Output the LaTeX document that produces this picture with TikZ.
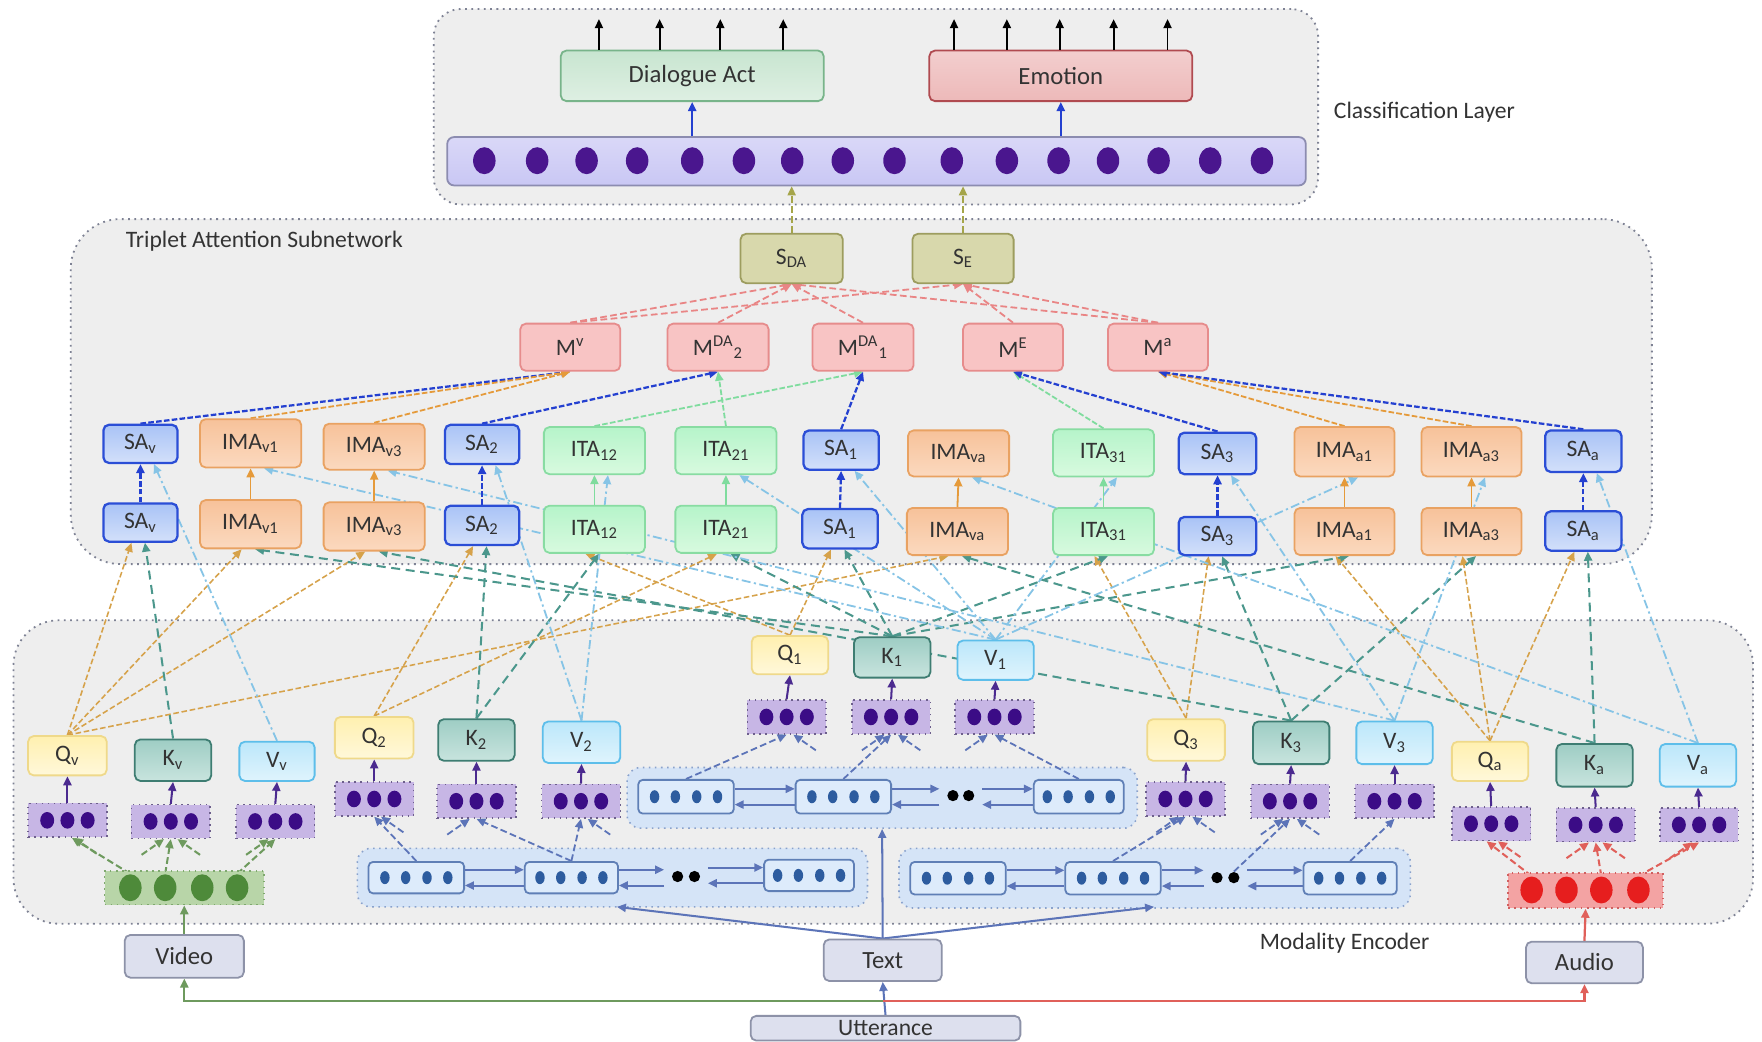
\documentclass[tikz,border=0pt]{standalone}
\usepackage{fontspec}
\setmainfont{Carlito}
\usetikzlibrary{arrows.meta,shapes.geometric}
\pgfdeclarelayer{back}
\pgfdeclarelayer{bg}
\pgfsetlayers{back,bg,main}

% palette
\definecolor{contF}{HTML}{EEEEEE}\definecolor{contB}{HTML}{7E8294}
\definecolor{barF}{HTML}{C9C7F4}\definecolor{barB}{HTML}{8C8CB0}\definecolor{barDot}{HTML}{4A168E}
\definecolor{daF}{HTML}{C8E5D0}\definecolor{daB}{HTML}{78B48A}
\definecolor{emF}{HTML}{EDB9B9}\definecolor{emB}{HTML}{B04A50}
\definecolor{sF}{HTML}{D8D8AC}\definecolor{sB}{HTML}{9D9D5F}
\definecolor{mF}{HTML}{F8C4C4}\definecolor{mB}{HTML}{E68C8C}
\definecolor{saF}{HTML}{A9C3F6}\definecolor{saFF}{HTML}{D3E0FA}\definecolor{saB}{HTML}{2B4ED6}
\definecolor{imaF}{HTML}{F7C29A}\definecolor{imaFF}{HTML}{FBD9BF}\definecolor{imaB}{HTML}{E9A262}
\definecolor{itaF}{HTML}{B6F4CA}\definecolor{itaFF}{HTML}{D8FADF}\definecolor{itaB}{HTML}{88DCA2}
\definecolor{qF}{HTML}{FFF0B0}\definecolor{qFF}{HTML}{FFF8DA}\definecolor{qB}{HTML}{EFD98A}
\definecolor{kF}{HTML}{9ECDC4}\definecolor{kFF}{HTML}{C8E4DE}\definecolor{kB}{HTML}{3E7D72}
\definecolor{vF}{HTML}{BCE7FA}\definecolor{vFF}{HTML}{DFF4FD}\definecolor{vB}{HTML}{5DBEEA}
\definecolor{pF}{HTML}{C7B6E5}\definecolor{pB}{HTML}{6D5F8C}\definecolor{pDot}{HTML}{3B0C86}
\definecolor{cellF}{HTML}{DDEBFB}\definecolor{cellB}{HTML}{5F7FB6}\definecolor{cellDot}{HTML}{2D5C9F}
\definecolor{tgF}{HTML}{D5E4F7}\definecolor{tgB}{HTML}{8AA2CC}
\definecolor{inF}{HTML}{DDE0EE}\definecolor{inB}{HTML}{8D92A8}
\definecolor{gF}{HTML}{B8D5A8}\definecolor{gB}{HTML}{7FA86F}\definecolor{gDot}{HTML}{4E8A3A}
\definecolor{rF}{HTML}{F3A3A3}\definecolor{rB}{HTML}{D06060}\definecolor{rDot}{HTML}{E61E1E}
\definecolor{tLine}{HTML}{5C74B8}\definecolor{gLine}{HTML}{6E9A5E}\definecolor{rLine}{HTML}{E0605A}
\definecolor{pLine}{HTML}{4B2A8F}\definecolor{qLine}{HTML}{D6A24A}\definecolor{kLine}{HTML}{4B978C}
\definecolor{vLine}{HTML}{86C4E6}\definecolor{saLine}{HTML}{2440D0}\definecolor{imaLine}{HTML}{E59A3A}
\definecolor{itaLine}{HTML}{7FDC9E}\definecolor{mLine}{HTML}{E98585}\definecolor{sLine}{HTML}{A5A54A}

% box given by its corners (x1,y1)-(x2,y2)
\newcommand\mybox[7]{%
  \pgfmathsetmacro\bxc{(#3+#5)/2}%
  \pgfmathsetmacro\byc{(#4+#6)/2}%
  \pgfmathsetmacro\bxw{(#5-#3)/2}%
  \pgfmathsetmacro\byh{(#6-#4)/2}%
  \node[#1,minimum width=\bxw pt,minimum height=\byh pt] (#2) at (\bxc,\byc) {#7};}
% small projection box with three units
\newcommand\pbx[3]{\node[pbox] (#1) at (#2,#3) {};%
  \foreach \dx in {-18,0,18}{\fill[pDot] ({#2+\dx},{#3}) ellipse [x radius=3.1pt,y radius=3.7pt];}}
% recurrent cell with four units
\newcommand\cell[5]{\mybox{cellst}{#1}{#2}{#3}{#4}{#5}{}%
  \foreach \dx in {-28,-9.5,9.5,28}{\fill[cellDot] ({(#2+#4)/2+\dx},{(#3+#5)/2}) ellipse [x radius=2.1pt,y radius=2.9pt];}}
% short incoming stubs under a projection box
\newcommand\stubL[2]{\draw[#2] ([shift={(-13pt,-7pt)}]#1.south) -- ([xshift=-3pt]#1.south);}
\newcommand\stubR[2]{\draw[#2] ([shift={(13pt,-7pt)}]#1.south) -- ([xshift=3pt]#1.south);}

\tikzset{
  >={Triangle[length=4pt,width=3.6pt]},
  lbl/.style={font=\fontsize{10.5}{12}\selectfont,text=black!80},
  cont/.style={draw=contB,fill=contF,dotted,line width=0.8pt,inner sep=0pt},
  base/.style={draw,rounded corners=2.5pt,inner sep=0pt,line width=0.8pt,
    font=\fontsize{10.5}{12}\selectfont,text=black!80},
  sabox/.style={base,draw=saB,line width=1pt,top color=saF,bottom color=saFF},
  imabox/.style={base,draw=imaB,top color=imaF,bottom color=imaFF},
  itabox/.style={base,draw=itaB,top color=itaF,bottom color=itaFF},
  mbox/.style={base,draw=mB,fill=mF},
  sbox/.style={base,draw=sB,fill=sF},
  qbox/.style={base,draw=qB,top color=qF,bottom color=qFF},
  kbox/.style={base,draw=kB,top color=kF,bottom color=kFF},
  vbox/.style={base,draw=vB,top color=vF,bottom color=vFF},
  inbox/.style={base,draw=inB,fill=inF,font=\fontsize{11}{13}\selectfont},
  pbox/.style={draw=pB,fill=pF,dotted,line width=0.7pt,minimum width=35pt,minimum height=15pt,inner sep=0pt},
  cellst/.style={draw=cellB,fill=cellF,rounded corners=2pt,line width=0.8pt,inner sep=0pt},
  grp/.style={draw=tgB,fill=tgF,dotted,rounded corners=6pt,line width=0.7pt,inner sep=0pt},
  gfeat/.style={draw=gB,fill=gF,dotted,line width=0.7pt,inner sep=0pt},
  rfeat/.style={draw=rB,fill=rF,dotted,line width=0.7pt,inner sep=0pt},
  gdot/.style={ellipse,fill=gDot,minimum width=10pt,minimum height=12pt,inner sep=0pt},
  rdot/.style={ellipse,fill=rDot,minimum width=10pt,minimum height=12pt,inner sep=0pt},
  bdot/.style={circle,fill=black,minimum size=5pt,inner sep=0pt},
  kdot/.style={ellipse,fill=barDot,minimum width=10pt,minimum height=12pt,inner sep=0pt},
  tarr/.style={->,draw=tLine,line width=0.9pt},
  tdash/.style={->,draw=tLine,dashed,dash pattern=on 3pt off 1.5pt,line width=0.8pt},
  gdash/.style={->,draw=gLine,dash pattern=on 3pt off 1.5pt,line width=0.9pt},
  rdash/.style={->,draw=rLine,dash pattern=on 3pt off 1.5pt,line width=0.9pt},
  parr/.style={->,draw=pLine,line width=0.9pt},
  qline/.style={->,draw=qLine,dash pattern=on 2.5pt off 1.2pt,line width=0.7pt},
  kline/.style={->,draw=kLine,dash pattern=on 4pt off 2.5pt,line width=0.9pt},
  vline/.style={->,draw=vLine,dash pattern=on 4pt off 1.5pt on 1pt off 1.5pt,line width=0.8pt},
  saline/.style={->,draw=saLine,dash pattern=on 2.5pt off 1pt,line width=1pt},
  imaline/.style={->,draw=imaLine,dash pattern=on 2.5pt off 1pt,line width=0.8pt},
  imasolid/.style={->,draw=imaLine,line width=0.8pt},
  italine/.style={->,draw=itaLine,dash pattern=on 2.5pt off 1pt,line width=0.8pt},
  itasolid/.style={->,draw=itaLine,line width=0.7pt},
  mline/.style={->,draw=mLine,dash pattern=on 3pt off 1.5pt,line width=0.8pt},
  sline/.style={->,draw=sLine,dash pattern=on 3pt off 1.5pt,line width=0.8pt},
}

\begin{document}
\begin{tikzpicture}[x=0.5pt,y=-0.5pt]
\useasboundingbox (0,0) rectangle (1568,927);

% ---------- containers ----------
\begin{pgfonlayer}{back}
  \fill[white] (0,0) rectangle (1568,927);
  \mybox{cont,rounded corners=12pt}{cls}{386}{8}{1173}{182}{}
  \mybox{cont,rounded corners=22pt}{tas}{63}{195}{1470}{502}{}
  \mybox{cont,rounded corners=20pt}{enc}{12}{552}{1560}{822}{}
  \mybox{grp}{tg1}{318}{755}{772}{807}{}
  \mybox{grp}{tg2}{558}{683}{1012}{737}{}
  \mybox{grp}{tg3}{800}{755}{1255}{808}{}
\end{pgfonlayer}

\node[lbl,anchor=west] (clsl) at (1180,100) {Classification Layer};
\node[lbl,anchor=west] (tasl) at (105,215) {Triplet Attention Subnetwork};
\node[lbl,anchor=west] (encl) at (1114,839) {Modality Encoder};

% ---------- classification layer ----------
\mybox{base,draw=daB,top color=daF,bottom color=daF!60!white,font=\fontsize{11}{13}\selectfont}{DA}{499}{45}{733}{90}{Dialogue Act}
\mybox{base,draw=emB,top color=emF!70!white,bottom color=emF,font=\fontsize{11}{13}\selectfont}{EM}{827}{45}{1061}{90}{Emotion}
\mybox{draw=barB,top color=barF!70!white,bottom color=barF,rounded corners=3pt,line width=0.8pt,inner sep=0pt}{bar}{398}{122}{1162}{165}{}
\foreach \x [count=\i] in {431,478,522,567,616,662,705,750,796,847,896,942,986,1031,1077,1123}
  \node[kdot] (h\i) at (\x,143) {};
\foreach \x [count=\i] in {533,587,641,697} {
  \coordinate (do\i) at (\x,17);
  \draw[->,line width=0.8pt] (do\i |- DA.north) -- (do\i);}
\foreach \x [count=\i] in {849,896,943,991,1039} {
  \coordinate (eo\i) at (\x,17);
  \draw[->,line width=0.8pt] (eo\i |- EM.north) -- (eo\i);}
\draw[->,draw=saLine,line width=0.9pt] (DA.south |- bar.north) -- (DA.south);
\draw[->,draw=saLine,line width=0.9pt] (EM.south |- bar.north) -- (EM.south);

% ---------- triplet attention subnetwork ----------
\mybox{sbox}{SDA}{659}{208}{750}{252}{S\textsubscript{DA}}
\mybox{sbox}{SE}{812}{208}{902}{252}{S\textsubscript{E}}

\mybox{mbox}{Mv}{463}{288}{552}{330}{M\textsuperscript{v}}
\mybox{mbox}{MDAb}{594}{288}{684}{330}{M\textsuperscript{DA}\textsubscript{2}}
\mybox{mbox}{MDAa}{723}{288}{813}{330}{M\textsuperscript{DA}\textsubscript{1}}
\mybox{mbox}{ME}{857}{288}{946}{330}{M\textsuperscript{E}}
\mybox{mbox}{Ma}{986}{288}{1075}{330}{M\textsuperscript{a}}

% upper attention row
\mybox{sabox}{SAvU}{92}{378}{158}{412}{SA\textsubscript{v}}
\mybox{imabox}{IMAv1U}{178}{373}{268}{416}{IMA\textsubscript{v1}}
\mybox{imabox}{IMAv3U}{288}{377}{378}{418}{IMA\textsubscript{v3}}
\mybox{sabox}{SA2U}{396}{378}{462}{413}{SA\textsubscript{2}}
\mybox{itabox}{ITA12U}{484}{380}{574}{422}{ITA\textsubscript{12}}
\mybox{itabox}{ITA21U}{601}{380}{691}{422}{ITA\textsubscript{21}}
\mybox{sabox}{SA1U}{715}{383}{782}{418}{SA\textsubscript{1}}
\mybox{imabox}{IMAvaU}{808}{383}{898}{424}{IMA\textsubscript{va}}
\mybox{itabox}{ITA31U}{937}{382}{1027}{424}{ITA\textsubscript{31}}
\mybox{sabox}{SA3U}{1049}{385}{1118}{422}{SA\textsubscript{3}}
\mybox{imabox}{IMAa1U}{1152}{380}{1241}{424}{IMA\textsubscript{a1}}
\mybox{imabox}{IMAa3U}{1265}{380}{1354}{424}{IMA\textsubscript{a3}}
\mybox{sabox}{SAaU}{1375}{383}{1443}{420}{SA\textsubscript{a}}

% lower attention row
\mybox{sabox}{SAvL}{92}{448}{158}{482}{SA\textsubscript{v}}
\mybox{imabox}{IMAv1L}{178}{445}{268}{488}{IMA\textsubscript{v1}}
\mybox{imabox}{IMAv3L}{288}{447}{378}{490}{IMA\textsubscript{v3}}
\mybox{sabox}{SA2L}{396}{450}{462}{485}{SA\textsubscript{2}}
\mybox{itabox}{ITA12L}{484}{450}{574}{492}{ITA\textsubscript{12}}
\mybox{itabox}{ITA21L}{601}{450}{691}{492}{ITA\textsubscript{21}}
\mybox{sabox}{SA1L}{714}{453}{781}{488}{SA\textsubscript{1}}
\mybox{imabox}{IMAvaL}{807}{452}{897}{494}{IMA\textsubscript{va}}
\mybox{itabox}{ITA31L}{937}{452}{1027}{494}{ITA\textsubscript{31}}
\mybox{sabox}{SA3L}{1049}{460}{1118}{494}{SA\textsubscript{3}}
\mybox{imabox}{IMAa1L}{1152}{452}{1241}{494}{IMA\textsubscript{a1}}
\mybox{imabox}{IMAa3L}{1265}{452}{1354}{494}{IMA\textsubscript{a3}}
\mybox{sabox}{SAaL}{1375}{455}{1443}{490}{SA\textsubscript{a}}

% ---------- modality encoder ----------
\mybox{qbox}{Qv}{25}{655}{95}{690}{Q\textsubscript{v}}
\mybox{kbox}{Kv}{120}{658}{188}{695}{K\textsubscript{v}}
\mybox{vbox}{Vv}{213}{660}{280}{695}{V\textsubscript{v}}
\mybox{qbox}{Q2}{298}{638}{368}{675}{Q\textsubscript{2}}
\mybox{kbox}{K2}{390}{640}{458}{677}{K\textsubscript{2}}
\mybox{vbox}{V2}{483}{642}{552}{679}{V\textsubscript{2}}
\mybox{qbox}{Q1}{669}{566}{737}{600}{Q\textsubscript{1}}
\mybox{kbox}{K1}{760}{567}{828}{603}{K\textsubscript{1}}
\mybox{vbox}{V1}{852}{570}{920}{605}{V\textsubscript{1}}
\mybox{qbox}{Q3}{1021}{640}{1090}{677}{Q\textsubscript{3}}
\mybox{kbox}{K3}{1115}{642}{1183}{680}{K\textsubscript{3}}
\mybox{vbox}{V3}{1207}{642}{1275}{680}{V\textsubscript{3}}
\mybox{qbox}{Qa}{1292}{660}{1360}{695}{Q\textsubscript{a}}
\mybox{kbox}{Ka}{1385}{662}{1453}{700}{K\textsubscript{a}}
\mybox{vbox}{Va}{1477}{662}{1545}{700}{V\textsubscript{a}}

\pbx{PQv}{60}{730}\pbx{PKv}{152}{731}\pbx{PVv}{245}{731}
\pbx{PQ2}{333}{711}\pbx{PK2}{424}{713}\pbx{PV2}{517}{713}
\pbx{PQ1}{700}{638}\pbx{PK1}{793}{638}\pbx{PV1}{885}{638}
\pbx{PQ3}{1055}{711}\pbx{PK3}{1148}{713}\pbx{PV3}{1241}{713}
\pbx{PQa}{1327}{733}\pbx{PKa}{1420}{734}\pbx{PVa}{1512}{734}

% text encoder cells
\cell{c11}{328}{767}{413}{795}\cell{c12}{467}{767}{550}{795}\cell{c13}{680}{765}{760}{793}
\cell{c21}{568}{694}{653}{724}\cell{c22}{708}{694}{793}{724}\cell{c23}{920}{694}{1000}{724}
\cell{c31}{810}{767}{895}{796}\cell{c32}{948}{767}{1033}{796}\cell{c33}{1160}{767}{1243}{796}
\node[bdot] (b1l) at (603,780) {};\node[bdot] (b1r) at (618,780) {};
\node[bdot] (b2l) at (848,708) {};\node[bdot] (b2r) at (862,708) {};
\node[bdot] (b3l) at (1083,781) {};\node[bdot] (b3r) at (1098,781) {};
\coordinate (g1a) at (591,781);\coordinate (g1b) at (630,779);
\coordinate (g2a) at (836,709);\coordinate (g2b) at (874,709);
\coordinate (g3a) at (1071,781.5);\coordinate (g3b) at (1110,781.5);

% video and audio feature vectors
\mybox{gfeat}{vfeat}{93}{775}{235}{805}{}
\node[gdot] (gd1) at (116,790) {};\node[gdot] (gd2) at (147,790) {};
\node[gdot] (gd3) at (180,790) {};\node[gdot] (gd4) at (211,790) {};
\mybox{rfeat}{afeat}{1342}{777}{1480}{808}{}
\node[rdot] (rd1) at (1363,792) {};\node[rdot] (rd2) at (1394,792) {};
\node[rdot] (rd3) at (1425,792) {};\node[rdot] (rd4) at (1458,792) {};

% inputs
\mybox{inbox}{Video}{111}{832}{217}{870}{Video}
\mybox{inbox}{Text}{733}{836}{838}{873}{Text}
\mybox{inbox}{Audio}{1358}{838}{1462}{875}{Audio}
\mybox{inbox,font=\fontsize{10.5}{12}\selectfont}{Utt}{668}{904}{908}{926}{Utterance}
\coordinate (split) at (786,891);
\coordinate (tgl) at (549,807);
\coordinate (tgr) at (1027,807);

% ---------- connectors ----------
\begin{pgfonlayer}{bg}
  % inputs
  \draw[->,draw=tLine,line width=0.9pt] (Utt.north) -- (Text.south);
  \draw[->,draw=gLine,line width=1pt] (split) -| (Video.south);
  \draw[->,draw=rLine,line width=1pt] (split) -| (Audio.south);
  \draw[->,draw=gLine,line width=1pt] (Video.north) -- (vfeat.south);
  \draw[->,draw=rLine,line width=1pt] (Audio.north) -- (afeat.south);
  \draw[tarr] (Text.north) -- (tg2.south);
  \draw[tarr] (Text.north) -- (tgl);
  \draw[tarr] (Text.north) -- (tgr);

  % bidirectional recurrences
  \foreach \a/\b/\ga/\gb/\c in {c11/c12/g1a/g1b/c13, c21/c22/g2a/g2b/c23, c31/c32/g3a/g3b/c33} {
    \draw[tarr] ([yshift=3.5pt]\a.east) -- ([yshift=3.5pt]\b.west);
    \draw[tarr] ([yshift=-3.5pt]\b.west) -- ([yshift=-3.5pt]\a.east);
    \draw[tarr] ([yshift=3.5pt]\b.east) -- ([yshift=3.5pt]\ga);
    \draw[tarr] ([yshift=-3.5pt]\ga) -- ([yshift=-3.5pt]\b.east);
    \draw[tarr] ([yshift=3.5pt]\gb) -- ([yshift=3.5pt]\c.west);
    \draw[tarr] ([yshift=-3.5pt]\c.west) -- ([yshift=-3.5pt]\gb);
  }

  % features to projections
  \draw[gdash] (gd1.north) -- ([xshift=2pt]PQv.south);
  \draw[gdash] (gd2.north) -- (PKv.south);
  \draw[gdash] (gd4.north) -- (PVv.south);
  \stubR{PQv}{gdash}\stubL{PKv}{gdash}\stubR{PKv}{gdash}\stubL{PVv}{gdash}
  \draw[rdash] (rd1.north) -- ([xshift=-2pt]PQa.south);
  \draw[rdash] (rd3.north) -- (PKa.south);
  \draw[rdash] (rd4.north) -- (PVa.south);
  \stubR{PQa}{rdash}\stubL{PKa}{rdash}\stubR{PKa}{rdash}\stubL{PVa}{rdash}
  \draw[tdash] (c11.north) -- (PQ2.south);
  \draw[tdash] (c12.north) -- (PK2.south);
  \draw[tdash] (c12.north) -- (PV2.south);
  \stubR{PQ2}{tdash}\stubL{PK2}{tdash}\stubR{PV2}{tdash}
  \draw[tdash] (c21.north) -- (PQ1.south);
  \draw[tdash] (c22.north) -- (PK1.south);
  \draw[tdash] (c23.north) -- (PV1.south);
  \stubR{PQ1}{tdash}\stubL{PK1}{tdash}\stubR{PK1}{tdash}\stubL{PV1}{tdash}
  \draw[tdash] (c32.north) -- (PQ3.south);
  \draw[tdash] (b3r.north) -- (PK3.south);
  \draw[tdash] (c33.north) -- (PV3.south);
  \stubL{PQ3}{tdash}\stubR{PQ3}{tdash}\stubL{PK3}{tdash}\stubR{PK3}{tdash}

  % projections to queries, keys and values
  \foreach \p/\n in {PQv/Qv,PKv/Kv,PVv/Vv,PQ2/Q2,PK2/K2,PV2/V2,PQ1/Q1,PK1/K1,PV1/V1,
                     PQ3/Q3,PK3/K3,PV3/V3,PQa/Qa,PKa/Ka,PVa/Va}
    \draw[parr] (\p.north) -- (\n.south);

  % queries into the attention blocks
  \foreach \s/\t in {Qv/SAvL,Qv/IMAv1L,Qv/IMAv3L,Qv/IMAvaL,Q2/SA2L,Q2/ITA21L,Q1/SA1L,Q1/ITA12L,
                     Q3/SA3L,Q3/ITA31L,Qa/SAaL,Qa/IMAa1L,Qa/IMAa3L}
    \draw[qline] (\s.north) -- ([xshift=-4pt]\t.south);
  % keys into the attention blocks
  \foreach \s/\t in {Kv/SAvL,K2/SA2L,K2/ITA12L,K1/SA1L,K1/IMAv1L,K1/ITA21L,K1/ITA31L,K1/IMAa1L,
                     K3/SA3L,K3/IMAv3L,K3/IMAa3L,Ka/SAaL,Ka/IMAvaL}
    \draw[kline] (\s.north) -- ([xshift=2pt]\t.south);
  % values into the attention outputs
  \foreach \s/\t in {Vv/SAvU,V2/SA2U,V2/ITA12U,V1/SA1U,V1/IMAv1U,V1/ITA21U,V1/ITA31U,V1/IMAa1U,
                     V3/SA3U,V3/IMAv3U,V3/IMAa3U,Va/SAaU,Va/IMAvaU}
    \draw[vline] (\s.north) -- ([xshift=6pt]\t.south);

  % attention scores to attended outputs
  \foreach \n in {SAv,SA2,SA1,SA3,SAa}
    \draw[saline] (\n L.north) -- (\n U.south);
  \foreach \n in {IMAv1,IMAv3,IMAva,IMAa1,IMAa3}
    \draw[imasolid] (\n L.north) -- (\n U.south);
  \foreach \n in {ITA12,ITA21,ITA31}
    \draw[itasolid] (\n L.north) -- (\n U.south);

  % attended outputs to modality/task summaries
  \draw[saline] (SAvU.north) -- (Mv.south);
  \draw[imaline] (IMAv1U.north) -- (Mv.south);
  \draw[imaline] (IMAv3U.north) -- (Mv.south);
  \draw[saline] (SA2U.north) -- (MDAb.south);
  \draw[italine] (ITA21U.north) -- (MDAb.south);
  \draw[saline] (SA1U.north) -- (MDAa.south);
  \draw[italine] (ITA12U.north) -- (MDAa.south);
  \draw[italine] (ITA31U.north) -- (ME.south);
  \draw[saline] (SA3U.north) -- (ME.south);
  \draw[imaline] (IMAa1U.north) -- (Ma.south);
  \draw[imaline] (IMAa3U.north) -- (Ma.south);
  \draw[saline] (SAaU.north) -- (Ma.south);

  % summaries to task representations
  \foreach \m in {Mv,MDAb,MDAa,Ma}
    \draw[mline] (\m.north) -- (SDA.south);
  \foreach \m in {Mv,ME,Ma}
    \draw[mline] (\m.north) -- (SE.south);
  \draw[sline] (SDA.north) -- (SDA.north |- bar.south);
  \draw[sline] (SE.north) -- (SE.north |- bar.south);
\end{pgfonlayer}
\end{tikzpicture}
\end{document}
